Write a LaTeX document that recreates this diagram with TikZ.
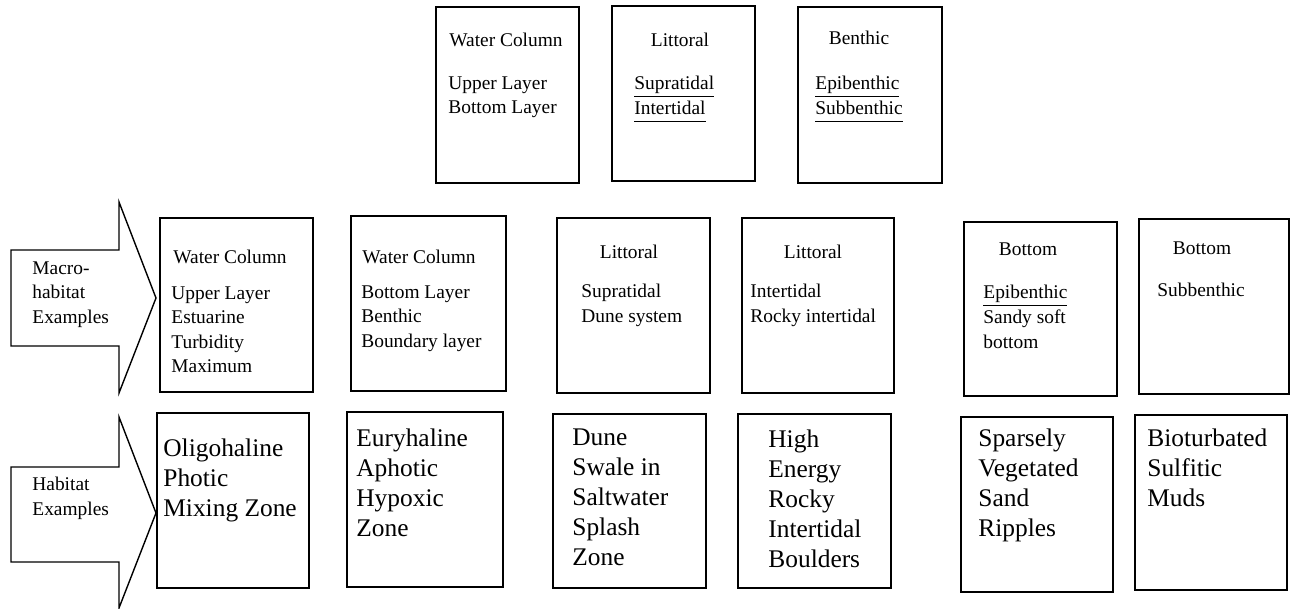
\documentclass[tikz,border=0pt]{standalone}
\usepackage{fontspec}
\setmainfont{Liberation Serif}
\usetikzlibrary{fit}

\newcommand{\boxsmall}{\fontsize{9.7pt}{12.3pt}\selectfont}
\newcommand{\boxlarge}{\fontsize{12.7pt}{15pt}\selectfont}
\newcommand{\undl}[1]{\underline{#1\vphantom{p}}}

\tikzset{
  zone/.style={draw, line width=0.9pt, inner sep=0pt},
  lbl/.style={font=\boxsmall, align=left, inner sep=0pt, anchor=north west},
  head/.style={font=\boxsmall, inner sep=0pt, anchor=north},
  hab/.style={font=\boxlarge, align=left, inner sep=0pt, anchor=north west},
  flow/.style={draw, line width=0.7pt, line join=miter}
}

\begin{document}
\begin{tikzpicture}[x=0.5pt, y=-0.5pt]
  \useasboundingbox (0,0) rectangle (1291,609);

  % top level boxes
  \node[zone, fit={(436,7) (579,183)}] (colbox) {};
  \node[zone, fit={(612,6) (755,181)}] (litbox) {};
  \node[zone, fit={(798,7) (942,183)}] (benbox) {};
  \node[lbl] (colhead) at (449,33) {Water Column};
  \node[lbl] (collist) at (448,76) {Upper Layer\\Bottom Layer};
  \node[head] (lithead) at (680,33) {Littoral};
  \node[lbl] (litlist) at (634,76) {\undl{Supratidal}\\\undl{Intertidal}};
  \node[head] (benhead) at (859,31) {Benthic};
  \node[lbl] (benlist) at (815,76) {\undl{Epibenthic}\\\undl{Subbenthic}};

  % block arrows on the left
  \draw[flow] (11,250) -- (119,250) -- (119,202) -- (156,298) -- (119,393)
    -- (119,346) -- (11,346) -- cycle;
  \draw[flow] (11,467) -- (119,467) -- (119,417) -- (156,513) -- (119,608)
    -- (119,562) -- (11,562) -- cycle;
  \node[lbl] (macro) at (32,261) {Macro-\\habitat\\Examples};
  \node[lbl] (habitat) at (32,477) {Habitat\\Examples};

  % macrohabitat row
  \node[zone, fit={(160,218) (313,392)}] (m1) {};
  \node[zone, fit={(351,216) (506,391)}] (m2) {};
  \node[zone, fit={(557,218) (710,393)}] (m3) {};
  \node[zone, fit={(742,218) (894,393)}] (m4) {};
  \node[zone, fit={(964,222) (1117,396)}] (m5) {};
  \node[zone, fit={(1139,219) (1289,394)}] (m6) {};

  \node[lbl] (m1head) at (173,250) {Water Column};
  \node[lbl] (m1list) at (171,286) {Upper Layer\\Estuarine\\Turbidity\\Maximum};
  \node[lbl] (m2head) at (362,250) {Water Column};
  \node[lbl] (m2list) at (361,285) {Bottom Layer\\Benthic\\Boundary layer};
  \node[head] (m3head) at (629,245) {Littoral};
  \node[lbl] (m3list) at (581,284) {Supratidal\\Dune system};
  \node[head] (m4head) at (813,245) {Littoral};
  \node[lbl] (m4list) at (750,284) {Intertidal\\Rocky intertidal};
  \node[head] (m5head) at (1028,242) {Bottom};
  \node[lbl] (m5list) at (983,285) {\undl{Epibenthic}\\Sandy soft\\bottom};
  \node[head] (m6head) at (1202,241) {Bottom};
  \node[lbl] (m6list) at (1157,283) {Subbenthic};

  % habitat row
  \node[zone, fit={(157,413) (309,588)}] (h1) {};
  \node[zone, fit={(347,412) (503,587)}] (h2) {};
  \node[zone, fit={(553,414) (706,588)}] (h3) {};
  \node[zone, fit={(738,414) (891,588)}] (h4) {};
  \node[zone, fit={(961,417) (1113,592)}] (h5) {};
  \node[zone, fit={(1135,415) (1287,590)}] (h6) {};

  \node[hab] (h1text) at (163,438) {Oligohaline\\Photic\\Mixing Zone};
  \node[hab] (h2text) at (356,428) {Euryhaline\\Aphotic\\Hypoxic\\Zone};
  \node[hab] (h3text) at (572,428) {Dune\\Swale in\\Saltwater\\Splash\\Zone};
  \node[hab] (h4text) at (768,429) {High\\Energy\\Rocky\\Intertidal\\Boulders};
  \node[hab] (h5text) at (978,428) {Sparsely\\Vegetated\\Sand\\Ripples};
  \node[hab] (h6text) at (1147,428) {Bioturbated\\Sulfitic\\Muds};
\end{tikzpicture}
\end{document}
